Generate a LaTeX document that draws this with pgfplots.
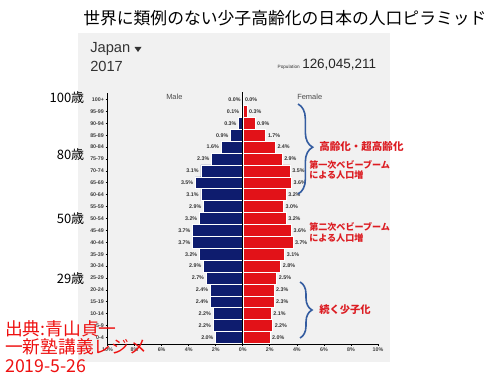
\documentclass[border=0pt]{standalone}
\usepackage{pgfplots}
\pgfplotsset{compat=1.18}
\usepackage{pgfplotstable}
\usepackage{fontspec}
\setmainfont{Liberation Sans}
\newfontfamily\jp{Noto Sans CJK JP}
\usetikzlibrary{decorations.pathreplacing}
\definecolor{navy}{RGB}{14,28,110}
\definecolor{pred}{RGB}{226,18,24}
\definecolor{ann}{RGB}{220,28,34}
\definecolor{src}{RGB}{238,16,16}
\definecolor{brc}{RGB}{52,92,160}
\definecolor{bg}{RGB}{241,241,241}
\pgfplotstableread{
idx m f
20 0.0 0.0
19 0.1 0.3
18 0.3 0.9
17 0.9 1.7
16 1.6 2.4
15 2.3 2.9
14 3.1 3.5
13 3.5 3.6
12 3.1 3.2
11 2.9 3.0
10 3.2 3.2
9 3.7 3.6
8 3.7 3.7
7 3.2 3.1
6 2.9 2.8
5 2.7 2.5
4 2.4 2.3
3 2.4 2.3
2 2.2 2.1
1 2.2 2.2
0 2.0 2.0
}\pyr
\begin{document}
\begin{tikzpicture}
\path[use as bounding box] (0,0) rectangle (375pt,-280.5pt);
\fill[bg] (58.5pt,-24.75pt) rectangle (292.5pt,-271.5pt);
\begin{axis}[
  at={(80.625pt,-258pt)}, anchor=south west,
  scale only axis, width=202.9pt, height=188.25pt,
  xmin=-10, xmax=10, ymin=-0.55, ymax=20.55,
  enlargelimits=false, clip=false,
  /pgf/number format/assume math mode=true,
  axis lines*=left,
  axis line style={black, line width=0.6pt},
  tick align=outside, major tick length=1.5pt,
  tick style={black, line width=0.5pt},
  xtick={-10,-8,...,10},
  xticklabels={10\%,8\%,6\%,4\%,2\%,0\%,2\%,4\%,6\%,8\%,10\%},
  ytick={0,...,20},
  yticklabels={0-4,5-9,10-14,15-19,20-24,25-29,30-34,35-39,40-44,45-49,50-54,55-59,60-64,65-69,70-74,75-79,80-84,85-89,90-94,95-99,100+},
  tick label style={font=\fontsize{4}{5}\selectfont\bfseries, text=black!75},
  yticklabel style={inner sep=1pt},
  xticklabel style={inner sep=1pt},
  nodes near coords={\pgfmathprintnumber[fixed,fixed zerofill,precision=1,assume math mode=true]{\pgfplotspointmeta}\%},
  every node near coord/.append style={font=\fontsize{4}{5}\selectfont\bfseries, text=black!80, inner sep=1.5pt},
]
\addplot[xbar, bar width=1, bar shift=0pt, fill=navy, draw=white, line width=0.4pt,
  point meta=explicit, every node near coord/.append style={anchor=east}]
  table[x expr=-\thisrow{m}, y=idx, meta=m] {\pyr};
\addplot[xbar, bar width=1, bar shift=0pt, fill=pred, draw=white, line width=0.4pt,
  point meta=explicit, every node near coord/.append style={anchor=west}]
  table[x=f, y=idx, meta=f] {\pyr};
\draw[black, line width=0.6pt] (axis cs:0,-0.55) -- (axis cs:0,20.62);
\end{axis}
\begin{scope}[x=0.75pt, y=-0.75pt]
\node[anchor=west, inner sep=0] at (83,18) {\jp\fontsize{12.6}{14}\selectfont 世界に類例のない少子高齢化の日本の人口ピラミッド};
\node[anchor=west, inner sep=0, text=black!80] at (90,49) {\fontsize{11}{12}\selectfont Japan};
\fill[black!80] (134.5,47) -- (141.5,47) -- (138,52) -- cycle;
\node[anchor=west, inner sep=0, text=black!80] at (90,66) {\fontsize{11}{12}\selectfont 2017};
\node[anchor=base east, inner sep=0, text=black!80] at (300,68.5) {\fontsize{3.5}{4}\selectfont Population};
\node[anchor=base west, inner sep=0, text=black!85] at (302,68.5) {\fontsize{10.1}{12}\selectfont 126,045,211};
\node[anchor=west, inner sep=0, text=black!70] at (166,97) {\fontsize{5.6}{6}\selectfont Male};
\node[anchor=west, inner sep=0, text=black!70] at (297,97) {\fontsize{5.6}{6}\selectfont Female};
\foreach \t/\yy in {100歳/98, 80歳/155, 50歳/219, 29歳/279}
  \node[anchor=east, inner sep=0] at (84.5,\yy) {\jp\fontsize{9.75}{11}\selectfont \t};
\draw[brc, line width=1.2pt, decorate, decoration={brace, amplitude=11pt, aspect=0.48}] (298,104) -- (298,194);
\draw[brc, line width=1.2pt, decorate, decoration={brace, amplitude=9pt, aspect=0.5}] (300,282) -- (300,338);
\node[anchor=west, inner sep=0, text=ann] at (319,146) {\jp\bfseries\fontsize{7.9}{9}\selectfont 高齢化・超高齢化};
\node[anchor=west, inner sep=0, text=ann] at (309,165) {\jp\bfseries\fontsize{6.8}{8}\selectfont 第一次ベビーブーム};
\node[anchor=west, inner sep=0, text=ann] at (309,175) {\jp\bfseries\fontsize{6.8}{8}\selectfont による人口増};
\node[anchor=west, inner sep=0, text=ann] at (309,227) {\jp\bfseries\fontsize{6.8}{8}\selectfont 第二次ベビーブーム};
\node[anchor=west, inner sep=0, text=ann] at (309,238) {\jp\bfseries\fontsize{6.8}{8}\selectfont による人口増};
\node[anchor=west, inner sep=0, text=ann] at (319,310) {\jp\bfseries\fontsize{7.7}{9}\selectfont 続く少子化};
\node[anchor=west, inner sep=0, text=src] at (5,329) {\jp\fontsize{13.3}{15}\selectfont 出典:青山貞一};
\node[anchor=west, inner sep=0, text=src] at (5,347) {\jp\fontsize{13.3}{15}\selectfont 一新塾講義レジメ};
\node[anchor=west, inner sep=0, text=src] at (5,366) {\jp\fontsize{13.3}{15}\selectfont 2019-5-26};
\end{scope}
\end{tikzpicture}
\end{document}
